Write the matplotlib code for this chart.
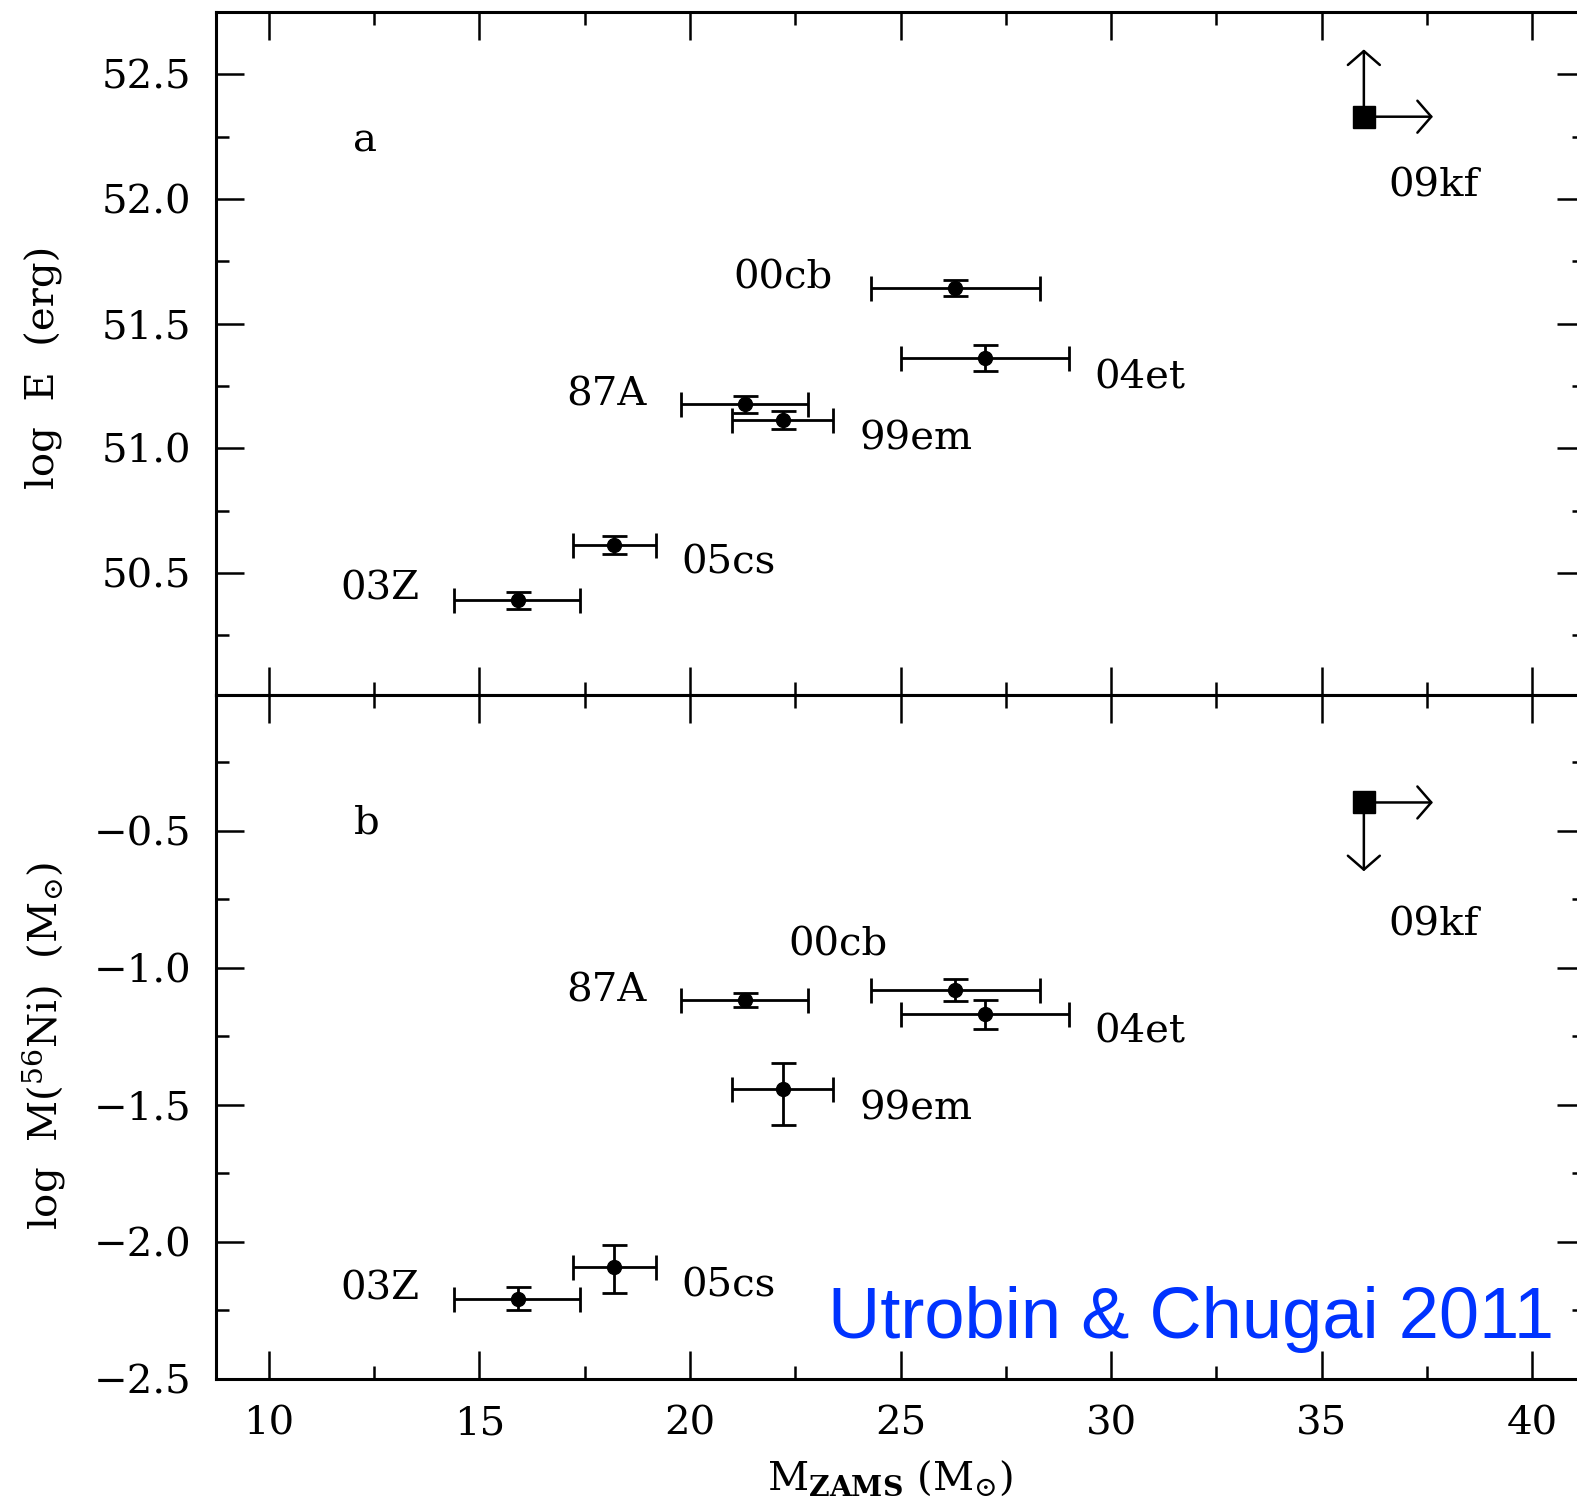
import numpy as np
import matplotlib
matplotlib.use('Agg')
import matplotlib.pyplot as plt
from matplotlib.ticker import MultipleLocator, ScalarFormatter
from matplotlib.transforms import offset_copy

plt.rcParams['font.family'] = ['DejaVu Serif']
plt.rcParams['mathtext.fontset'] = 'dejavuserif'

# supernovae (M_ZAMS with range, log E, log M(56Ni))
nombres = ['03Z', '05cs', '87A', '99em', '00cb', '04et']
masa = np.array([15.91, 18.21, 21.30, 22.20, 26.29, 27.01])
masa_min = np.array([14.41, 17.22, 19.79, 21.00, 24.31, 25.01])
masa_max = np.array([17.40, 19.20, 22.80, 23.40, 28.30, 29.00])
logE = np.array([50.391, 50.612, 51.176, 51.114, 51.643, 51.363])
logE_err = np.array([0.034, 0.035, 0.035, 0.035, 0.032, 0.052])
logNi = np.array([-2.207, -2.092, -1.118, -1.444, -1.081, -1.169])
logNi_err_inf = np.array([0.042, 0.094, 0.026, 0.128, 0.040, 0.053])
logNi_err_sup = np.array([0.042, 0.080, 0.026, 0.098, 0.040, 0.053])

# SN 2009kf: limites
kf_masa = 36.0
kf_masa_lim = 37.64
kf_logE = 52.33
kf_logE_lim = 52.60
kf_logNi = -0.397
kf_logNi_lim = -0.648

# posiciones de las etiquetas (centro del texto)
etiq_x = [12.63, 20.92, 18.03, 25.36, 22.21, 30.69]
etiq_yE = [50.45, 50.556, 51.23, 51.055, 51.70, 51.30]
etiq_x_b = [12.63, 20.92, 18.03, 25.36, 23.52, 30.69]
etiq_yNi = [-2.158, -2.147, -1.071, -1.499, -0.90, -1.218]

fs = 29

fig = plt.figure(figsize=(15.77, 15.07), dpi=100)
izq = 216 / 1577
ancho = (1585 - 216) / 1577
ax1 = fig.add_axes([izq, 1 - 695 / 1507, ancho, 683 / 1507])
ax2 = fig.add_axes([izq, 1 - 1379 / 1507, ancho, 684 / 1507])


def estilo(ax):
    ax.set_xlim(8.75, 41.25)
    ax.xaxis.set_major_locator(MultipleLocator(5))
    ax.xaxis.set_minor_locator(MultipleLocator(2.5))
    ax.yaxis.set_major_locator(MultipleLocator(0.5))
    ax.yaxis.set_minor_locator(MultipleLocator(0.25))
    fmt = ScalarFormatter(useOffset=False)
    ax.yaxis.set_major_formatter(fmt)
    ax.tick_params(which='both', direction='in', top=True, right=True, width=1.8, labelsize=fs)
    ax.tick_params(which='major', length=20)
    ax.tick_params(which='minor', length=9.5)
    ax.tick_params(axis='y', pad=18)
    ax.tick_params(axis='x', pad=19)
    for s in ax.spines.values():
        s.set_linewidth(2.2)


def flecha(ax, x0, y0, x1, y1):
    ax.annotate('', xy=(x1, y1), xytext=(x0, y0),
                arrowprops=dict(arrowstyle='->,head_length=1.0,head_width=1.15',
                                mutation_scale=10, lw=1.8, color='k',
                                shrinkA=0, shrinkB=0))


def texto(ax, x, y, s):
    tr = offset_copy(ax.transData, fig=fig, x=0, y=-3, units='points')
    ax.text(x, y, s, fontsize=fs, ha='center', va='center', transform=tr)


kw = dict(fmt='o', color='k', ms=10, elinewidth=2, capsize=9, capthick=2, lw=0)

# panel a
estilo(ax1)
ax1.set_ylim(50.01, 52.75)
ax1.tick_params(axis='x', labelbottom=False)
ax1.errorbar(masa, logE, xerr=[masa - masa_min, masa_max - masa], yerr=logE_err, **kw)
flecha(ax1, kf_masa, kf_logE, kf_masa, kf_logE_lim)
flecha(ax1, kf_masa, kf_logE, kf_masa_lim, kf_logE)
ax1.plot([kf_masa], [kf_logE], 's', color='k', ms=16, zorder=5)
for n, x, y in zip(nombres, etiq_x, etiq_yE):
    texto(ax1, x, y, n)
texto(ax1, 37.66, 52.07, '09kf')
texto(ax1, 12.29, 52.25, 'a')
ax1.set_ylabel('log  E  (erg)', fontsize=fs, va='center')
ax1.yaxis.set_label_coords(-0.126, 0.48)

# panel b
estilo(ax2)
ax2.set_ylim(-2.5, -0.005)
ax2.errorbar(masa, logNi, xerr=[masa - masa_min, masa_max - masa],
             yerr=[logNi_err_inf, logNi_err_sup], **kw)
flecha(ax2, kf_masa, kf_logNi, kf_masa, kf_logNi_lim)
flecha(ax2, kf_masa, kf_logNi, kf_masa_lim, kf_logNi)
ax2.plot([kf_masa], [kf_logNi], 's', color='k', ms=16, zorder=5)
for n, x, y in zip(nombres, etiq_x_b, etiq_yNi):
    texto(ax2, x, y, n)
texto(ax2, 37.66, -0.828, '09kf')
texto(ax2, 12.34, -0.456, 'b')
ax2.set_ylabel(r'log  M($^{56}$Ni)  (M$_{\odot}$)', fontsize=fs, va='center')
ax2.yaxis.set_label_coords(-0.126, 0.487)
ax2.set_xlabel(r'M$_{\mathbf{ZAMS}}$ (M$_{\odot}$)', fontsize=fs, va='center')
ax2.xaxis.set_label_coords(0.492, -0.145)

ax2.text(23.27, -2.35, 'Utrobin & Chugai 2011', fontsize=52, color='#0033ff',
         family='Liberation Sans', ha='left', va='baseline')

fig.savefig('out.png', dpi=100)
